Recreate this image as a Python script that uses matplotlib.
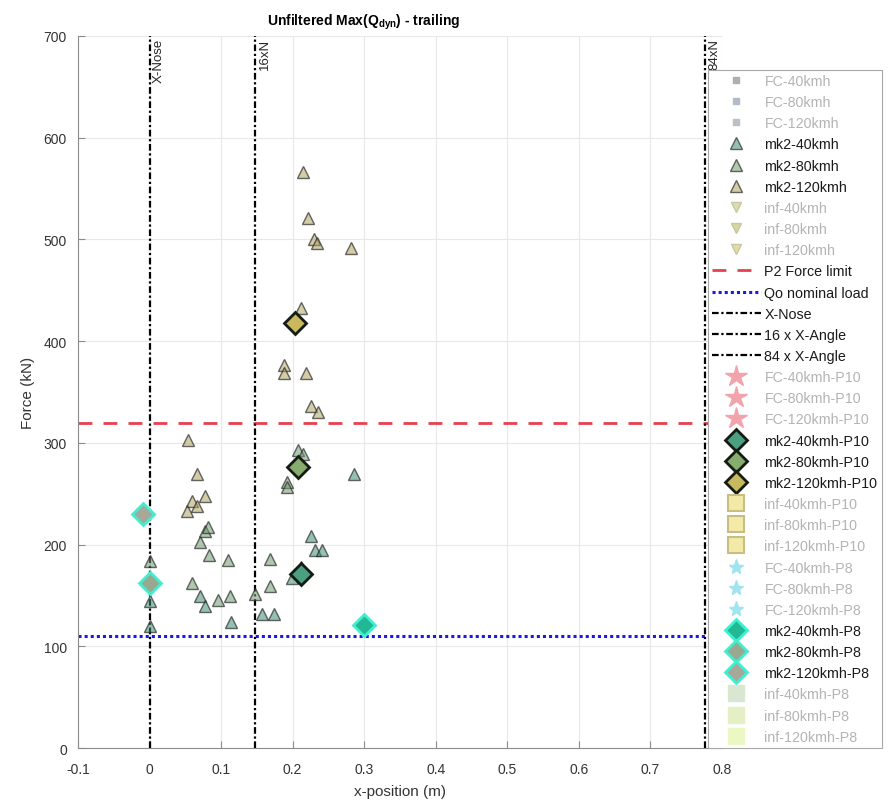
import numpy as np
import matplotlib
matplotlib.use("Agg")
import matplotlib.pyplot as plt
from matplotlib.colors import to_rgba

plt.rcParams['font.family'] = ['Liberation Sans', 'DejaVu Sans']

# ---- data (x in m, force in kN) ----
mk2_40_x = [0.0, 0.0, 0.071, 0.077, 0.114, 0.157, 0.174, 0.199, 0.212, 0.225, 0.231, 0.241, 0.286]
mk2_40_y = [145, 120, 149, 140, 124, 132, 132, 167, 178, 208, 195, 195, 269]

mk2_80_x = [0.0, 0.059, 0.096, 0.113, 0.147, 0.169, 0.192, 0.192, 0.208, 0.215, 0.083,
            0.071, 0.077, 0.082, 0.110, 0.169]
mk2_80_y = [184, 162, 146, 149, 151, 159, 262, 257, 293, 289, 190, 203, 213, 217, 185, 186]

mk2_120_x = [0.054, 0.066, 0.059, 0.077, 0.067, 0.052, 0.188, 0.188, 0.218, 0.225, 0.235,
             0.212, 0.214, 0.222, 0.230, 0.234, 0.281]
mk2_120_y = [303, 269, 243, 248, 238, 233, 377, 369, 369, 336, 330, 433, 566, 521, 500, 496, 492]

# P10 / P8 summary points
p10_x = [0.211, 0.207, 0.204]
p10_y = [171, 276, 418]
p8_x = [0.300, 0.0, -0.009]
p8_y = [121, 162, 230]

force_limit = 320
nominal_load = 110
x_angle = 0.00924
x_nose = 0.0
speeds = ['40kmh', '80kmh', '120kmh']

fig = plt.figure(figsize=(8.9, 8.03), dpi=100)
ax = fig.add_axes([0.0876, 0.0672, 0.7236, 0.8868])

grey_txt = '#b4b4b4'
edge = '#2b2b2b'
labels = []
faded = []

def add(h, lab, fade=False):
    labels.append((h, lab))
    if fade:
        faded.append(lab)

# FC raw (not shown, greyed)
fc_cols = ['#a9b1b5', '#b3bcc6', '#b9c1c6']
for s, c in zip(speeds, fc_cols):
    h, = ax.plot([], [], 's', ms=5, mfc=c, mec=c)
    add(h, 'FC-' + s, True)

# mk2 raw
mk2_cols = ['#3d8f74', '#6f9a70', '#b0a262']
mk2_data = [(mk2_40_x, mk2_40_y), (mk2_80_x, mk2_80_y), (mk2_120_x, mk2_120_y)]
for s, c, (xs, ys) in zip(speeds, mk2_cols, mk2_data):
    h, = ax.plot(xs, ys, '^', ms=8.5, mfc=to_rgba(c, 0.55), mec=to_rgba(edge, 0.7), mew=1.0,
                 linestyle='none', zorder=3)
    add(h, 'mk2-' + s)

# inf raw (greyed)
inf_cols = ['#dcdcb0', '#d8d6a4', '#e0dcae']
for s, c in zip(speeds, inf_cols):
    h, = ax.plot([], [], 'v', ms=7, mfc=c, mec='#c8c8a0')
    add(h, 'inf-' + s, True)

h = ax.axhline(force_limit, color='#e8404f', ls=(0, (5, 4)), lw=2, zorder=2)
add(h, 'P2 Force limit')
h = ax.axhline(nominal_load, color='#1a1ae6', ls=(0, (1, 1)), lw=2.2, zorder=2)
add(h, 'Qo nominal load')

vlines = [(x_nose, 'X-Nose', 'X-Nose'),
          (16 * x_angle, '16 x X-Angle', '16xN'),
          (84 * x_angle, '84 x X-Angle', '84xN')]
for xv, lab, short in vlines:
    h = ax.axvline(xv, color='black', ls=(0, (3, 1.2, 1, 1.2)), lw=1.6, zorder=2)
    add(h, lab)
    ax.text(xv + 0.005, 698, short, rotation=90, va='top', ha='left', fontsize=9.5,
            color='#262626')

# P10 summary
for s in speeds:
    h, = ax.plot([], [], '*', ms=16, mfc='#f2a4ac', mec='#f2a4ac')
    add(h, 'FC-' + s + '-P10', True)
p10_cols = ['#4aa080', '#86ad6e', '#c8b85e']
for s, c, xv, yv in zip(speeds, p10_cols, p10_x, p10_y):
    h, = ax.plot([xv], [yv], 'D', ms=11, mfc=c, mec='#141c14', mew=2, linestyle='none', zorder=4)
    add(h, 'mk2-' + s + '-P10')
for s in speeds:
    h, = ax.plot([], [], 's', ms=11, mfc='#f3eaa8', mec='#c9bd86', mew=1.5)
    add(h, 'inf-' + s + '-P10', True)

# P8 summary
for s in speeds:
    h, = ax.plot([], [], '*', ms=11, mfc='#9fe4ef', mec='#9fe4ef')
    add(h, 'FC-' + s + '-P8', True)
p8_cols = ['#22b894', '#9aa890', '#a8a89a']
for s, c, xv, yv in zip(speeds, p8_cols, p8_x, p8_y):
    h, = ax.plot([xv], [yv], 'D', ms=11, mfc=c, mec='#3ef0d2', mew=2, linestyle='none', zorder=4)
    add(h, 'mk2-' + s + '-P8')
inf8_cols = ['#d8e6d2', '#e4f0c4', '#ecf8c4']
for s, c in zip(speeds, inf8_cols):
    h, = ax.plot([], [], 's', ms=11, mfc=c, mec=c)
    add(h, 'inf-' + s + '-P8', True)

ax.set_xlim(-0.1, 0.8)
ax.set_ylim(0, 700)
ax.set_xticks(np.arange(-0.1, 0.81, 0.1))
ax.set_xticklabels(['-0.1', '0', '0.1', '0.2', '0.3', '0.4', '0.5', '0.6', '0.7', '0.8'])
ax.set_yticks(np.arange(0, 701, 100))
ax.grid(True, color='#e8e8e8', lw=0.8)
ax.set_axisbelow(True)
for side in ['top', 'right']:
    ax.spines[side].set_visible(False)
for side in ['left', 'bottom']:
    ax.spines[side].set_color('#8c8c8c')
ax.tick_params(direction='in', colors='#8c8c8c', labelcolor='#333333', labelsize=10, length=5)
ax.tick_params(axis='x', pad=10)
ax.tick_params(axis='y', pad=8)

ax.set_xlabel('x-position (m)', fontsize=11, color='#333333', labelpad=6)
ax.set_ylabel('Force (kN)', fontsize=11, color='#333333', labelpad=6)
ax.set_title('Unfiltered Max(Q$_{\\mathregular{dyn}}$) - trailing', fontsize=10, fontweight='bold',
             x=0.443, pad=8)

leg = ax.legend([h for h, _ in labels], [l for _, l in labels], loc='lower right',
                bbox_to_anchor=(1.248, 0.0), fontsize=10.3, handlelength=3.4, labelspacing=0.5,
                borderpad=0.3, handletextpad=0.25, fancybox=False, framealpha=1,
                edgecolor='#a8a8a8', borderaxespad=0)
leg.get_frame().set_linewidth(0.8)
for t in leg.get_texts():
    t.set_color(grey_txt if t.get_text() in faded else '#1a1a1a')

fig.savefig('out.png', dpi=100)
